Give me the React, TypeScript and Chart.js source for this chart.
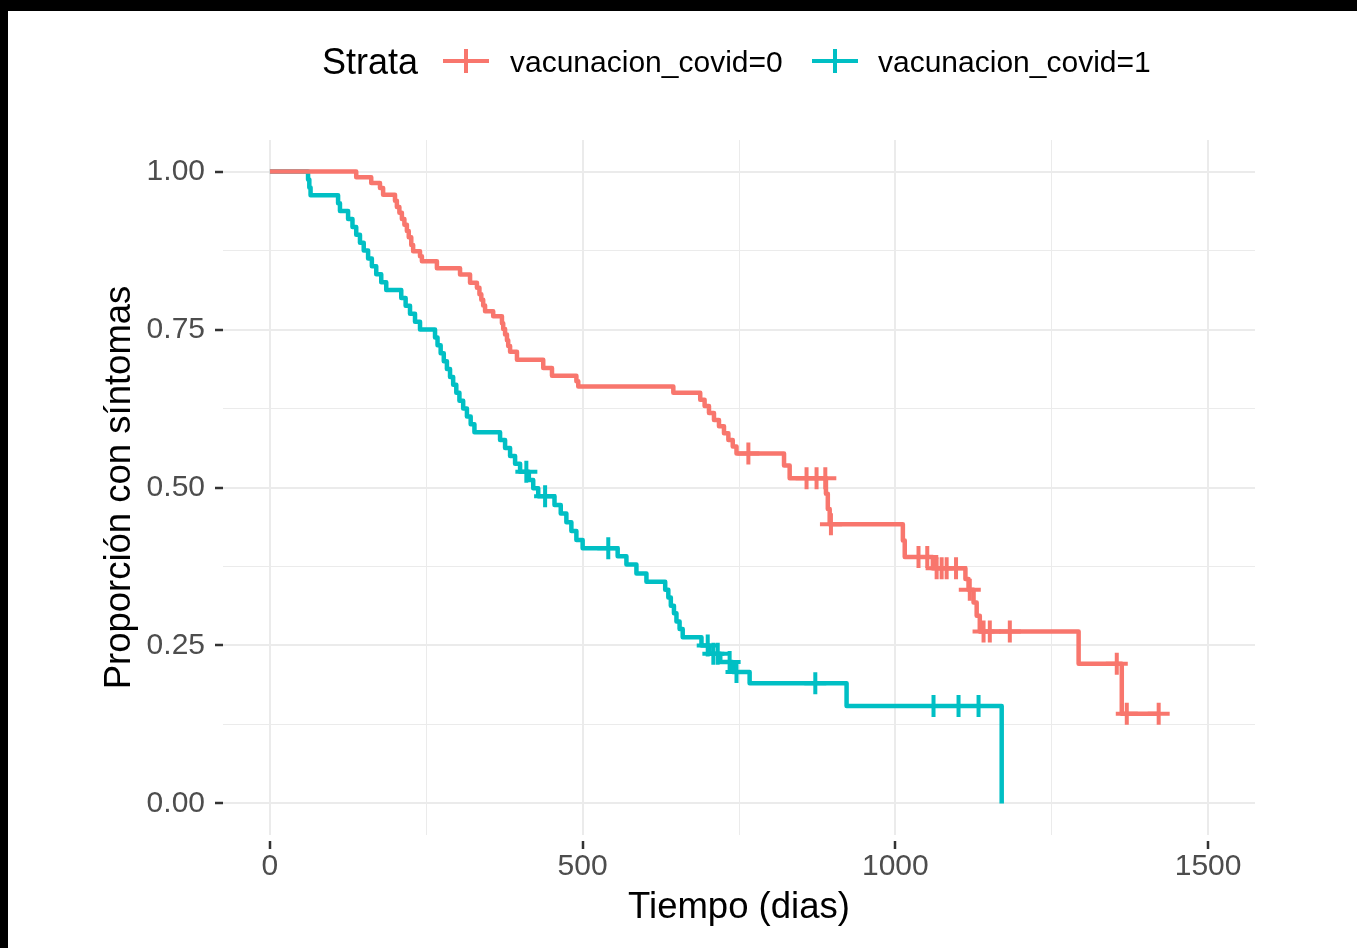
import React, { useEffect, useRef } from "react";
import { Chart, registerables } from "chart.js";

Chart.register(...registerables);

// ---------- data ----------
const legendTitle = "Strata";
const strataLabels = ["vacunacion_covid=0", "vacunacion_covid=1"];
const xTitle = "Tiempo (dias)";
const yTitle = "Proporción con síntomas";

const xMajorTicks = [0, 500, 1000, 1500];
const xGridTicks = [0, 250, 500, 750, 1000, 1250, 1500];
const yMajorTicks = [0, 0.25, 0.5, 0.75, 1];
const yGridTicks = [0, 0.125, 0.25, 0.375, 0.5, 0.625, 0.75, 0.875, 1];

// vacunacion_covid=0 (red) : event times and survival after each step
const redTimes = [
  0, 138, 162, 176, 181, 200, 203, 207, 211, 215, 219, 222, 226, 229, 240, 243, 267,
  304, 320, 331, 335, 338, 341, 344, 357, 371, 373, 376, 379, 381, 384, 395, 437, 451,
  490, 493, 645, 688, 695, 702, 710, 718, 726, 733, 740, 746, 822, 831, 889, 892, 895,
  1012, 1015, 1060, 1112, 1117, 1125, 1130, 1135, 1293, 1362, 1421,
];
const redSurv = [
  1.0, 0.991, 0.982, 0.974, 0.9635, 0.954, 0.944, 0.935, 0.925, 0.916, 0.906, 0.896,
  0.884, 0.874, 0.866, 0.858, 0.847, 0.837, 0.824, 0.816, 0.806, 0.797, 0.788, 0.779,
  0.771, 0.76, 0.751, 0.742, 0.733, 0.724, 0.715, 0.702, 0.689, 0.677, 0.668, 0.66,
  0.65, 0.639, 0.629, 0.618, 0.607, 0.597, 0.586, 0.575, 0.565, 0.554, 0.535, 0.5146,
  0.49, 0.466, 0.442, 0.416, 0.39, 0.372, 0.355, 0.338, 0.318, 0.297, 0.272, 0.221,
  0.142, 0.142,
];
const redCensor = [
  765, 858, 874, 888, 897, 1037, 1051, 1066, 1074, 1082, 1097, 1119, 1141, 1151, 1183,
  1354, 1370, 1421,
];

// vacunacion_covid=1 (teal)
const blueTimes = [
  0, 61, 63, 65, 109, 112, 125, 132, 138, 144, 150, 157, 163, 170, 178, 186, 210, 217,
  224, 232, 240, 264, 268, 273, 278, 283, 288, 293, 298, 303, 309, 315, 321, 327, 368,
  376, 384, 392, 400, 414, 421, 429, 455, 465, 474, 482, 490, 500, 556, 570, 586, 602,
  632, 637, 641, 646, 650, 655, 660, 690, 703, 720, 740, 767, 922, 1170,
];
const blueSurv = [
  1.0, 0.9875, 0.975, 0.9625, 0.95, 0.9375, 0.925, 0.9125, 0.9, 0.8875, 0.875, 0.8625,
  0.85, 0.8375, 0.825, 0.8125, 0.8, 0.7875, 0.775, 0.7625, 0.75, 0.7375, 0.725, 0.7125,
  0.7, 0.6875, 0.675, 0.6625, 0.65, 0.6375, 0.625, 0.6125, 0.6, 0.5875, 0.575, 0.5625,
  0.55, 0.5375, 0.525, 0.512, 0.499, 0.486, 0.4725, 0.459, 0.445, 0.431, 0.417, 0.404,
  0.391, 0.378, 0.364, 0.351, 0.338, 0.326, 0.313, 0.301, 0.288, 0.276, 0.263, 0.25,
  0.237, 0.224, 0.208, 0.19, 0.154, 0.0,
];
const blueCensor = [410, 440, 541, 700, 709, 716, 735, 746, 872, 1061, 1101, 1133];

// ---------- style ----------
const RED = "#F8766D";
const TEAL = "#00BFC4";
const FONT = '"Liberation Sans", Arial, Helvetica, sans-serif';

function stepAt(times: number[], surv: number[], t: number): number {
  let v = surv[0];
  for (let i = 0; i < times.length; i++) {
    if (times[i] <= t) v = surv[i];
    else break;
  }
  return v;
}

const legendPlugin = {
  id: "kmLegend",
  afterDraw(chart: any) {
    const ctx = chart.ctx as CanvasRenderingContext2D;
    ctx.save();
    ctx.textAlign = "left";
    ctx.textBaseline = "alphabetic";
    ctx.fillStyle = "#000000";
    ctx.font = `36px ${FONT}`;
    ctx.fillText(legendTitle, 322, 74);
    const keys = [
      { x0: 443, color: RED, label: strataLabels[0], lx: 510 },
      { x0: 812, color: TEAL, label: strataLabels[1], lx: 878 },
    ];
    for (const k of keys) {
      ctx.strokeStyle = k.color;
      ctx.lineWidth = 4;
      ctx.beginPath();
      ctx.moveTo(k.x0, 61);
      ctx.lineTo(k.x0 + 46, 61);
      ctx.moveTo(k.x0 + 23, 49);
      ctx.lineTo(k.x0 + 23, 73);
      ctx.stroke();
      ctx.fillStyle = "#000000";
      ctx.font = `30px ${FONT}`;
      ctx.fillText(k.label, k.lx, 72);
    }
    ctx.restore();
  },
};

export default function App() {
  const canvasRef = useRef<HTMLCanvasElement | null>(null);

  useEffect(() => {
    if (!canvasRef.current) return;
    Chart.defaults.font.family = FONT;

    const redLine = redTimes.map((t, i) => ({ x: t, y: redSurv[i] }));
    const blueLine = blueTimes.map((t, i) => ({ x: t, y: blueSurv[i] }));
    const redMarks = redCensor.map((t) => ({ x: t, y: stepAt(redTimes, redSurv, t) }));
    const blueMarks = blueCensor.map((t) => ({ x: t, y: stepAt(blueTimes, blueSurv, t) }));

    const lineDs = (label: string, data: any[], color: string) => ({
      label,
      data,
      borderColor: color,
      backgroundColor: color,
      borderWidth: 4.5,
      stepped: true,
      pointRadius: 0,
      fill: false,
      showLine: true,
      borderJoinStyle: "round",
    });
    const censorDs = (label: string, data: any[], color: string) => ({
      label,
      data,
      borderColor: color,
      backgroundColor: color,
      showLine: false,
      pointStyle: "cross",
      pointRadius: 11,
      pointBorderWidth: 4,
      pointHoverRadius: 11,
    });

    const isMajorX = (v: number) => xMajorTicks.includes(v);
    const isMajorY = (v: number) => yMajorTicks.some((m) => Math.abs(m - v) < 1e-9);

    const chart = new Chart(canvasRef.current, {
      type: "line",
      data: {
        datasets: [
          lineDs(strataLabels[0], redLine, RED),
          censorDs(strataLabels[0] + " censor", redMarks, RED),
          lineDs(strataLabels[1], blueLine, TEAL),
          censorDs(strataLabels[1] + " censor", blueMarks, TEAL),
        ] as any,
      },
      options: {
        animation: false,
        responsive: false,
        events: [],
        layout: { padding: { left: 0, right: 102, top: 140, bottom: 0 } },
        plugins: {
          legend: { display: false },
          tooltip: { enabled: false },
        },
        scales: {
          x: {
            type: "linear",
            min: -75,
            max: 1575,
            afterBuildTicks: (s: any) => {
              s.ticks = xGridTicks.map((v) => ({ value: v }));
            },
            afterFit: (s: any) => {
              s.height = 113;
            },
            border: { display: false },
            grid: {
              color: "#EBEBEB",
              lineWidth: (c: any) => (c.tick && isMajorX(c.tick.value) ? 2 : 1),
              drawTicks: true,
              tickLength: 14,
              tickWidth: 2.5,
              tickColor: (c: any) =>
                c.tick && isMajorX(c.tick.value) ? "#333333" : "rgba(0,0,0,0)",
              tickBorderDash: [8, 6],
              tickBorderDashOffset: 8,
            } as any,
            ticks: {
              autoSkip: false,
              maxRotation: 0,
              padding: 0,
              color: "#4D4D4D",
              font: { size: 30, family: FONT },
              callback: (v: any) => (isMajorX(Number(v)) ? String(v) : ""),
            },
            title: {
              display: true,
              text: xTitle,
              color: "#000000",
              font: { size: 36.5, family: FONT },
              padding: { top: 0, bottom: 18 },
            },
          },
          y: {
            type: "linear",
            min: -0.05,
            max: 1.05,
            afterBuildTicks: (s: any) => {
              s.ticks = yGridTicks.map((v) => ({ value: v }));
            },
            afterFit: (s: any) => {
              s.width = 223;
            },
            border: { display: false },
            grid: {
              color: "#EBEBEB",
              lineWidth: (c: any) => (c.tick && isMajorY(c.tick.value) ? 2 : 1),
              drawTicks: true,
              tickLength: 12,
              tickWidth: 2.5,
              tickColor: (c: any) =>
                c.tick && isMajorY(c.tick.value) ? "#333333" : "rgba(0,0,0,0)",
              tickBorderDash: [8, 4],
              tickBorderDashOffset: 8,
            } as any,
            ticks: {
              autoSkip: false,
              padding: 6,
              color: "#4D4D4D",
              font: { size: 30, family: FONT },
              callback: (v: any) => (isMajorY(Number(v)) ? Number(v).toFixed(2) : ""),
            },
            title: {
              display: true,
              text: yTitle,
              color: "#000000",
              font: { size: 36.5, family: FONT },
              padding: { top: 98, bottom: 0 },
            },
          },
        },
      } as any,
      plugins: [legendPlugin],
    });

    return () => {
      chart.destroy();
    };
  }, []);

  return (
    <div
      style={{
        position: "absolute",
        left: 0,
        top: 0,
        width: 1357,
        height: 948,
        background: "#ffffff",
        overflow: "hidden",
      }}
    >
      <canvas ref={canvasRef} width={1357} height={948} style={{ display: "block" }} />
      <div style={{ position: "absolute", left: 0, top: 0, width: 1357, height: 11, background: "#000" }} />
      <div style={{ position: "absolute", left: 0, top: 0, width: 8, height: 948, background: "#000" }} />
    </div>
  );
}
